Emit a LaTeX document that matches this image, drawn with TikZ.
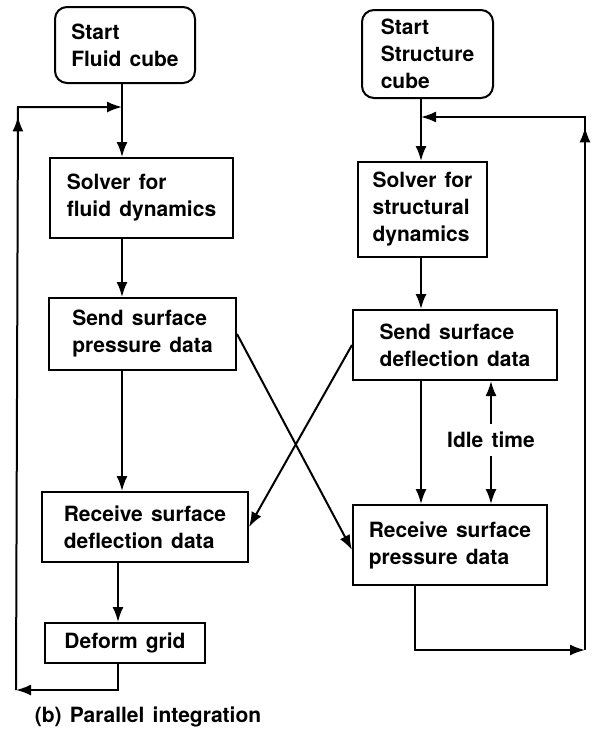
\documentclass[tikz,border=0pt]{standalone}
\usepackage{fontspec}
\setmainfont{TeX Gyre Heros}[WordSpace=1.4]
\usetikzlibrary{arrows.meta,calc,positioning,decorations.markings}

\begin{document}
\begin{tikzpicture}[x=1pt,y=-1pt,line width=2pt,
every node/.style={font=\bfseries\fontsize{21}{27}\selectfont},
box/.style={draw,rectangle,align=left,inner sep=0pt},
startbox/.style={box,rounded corners=12pt},
arr/.style={-{Latex[length=15pt,width=11pt]}},
midarr/.style={postaction={decorate},decoration={markings,
  mark=at position #1 with {\arrow{Latex[length=15pt,width=11pt]}}}}]
\useasboundingbox (0,0) rectangle (592,740);
% fluid side
\node[startbox,minimum width=140pt,minimum height=76pt] (F1) at (125,45) {Start\\Fluid cube};
\node[box,minimum width=183pt,minimum height=80pt] (F2) at (141.5,198) {Solver for\\fluid dynamics};
\node[box,minimum width=187pt,minimum height=72pt] (F3) at (142.5,334) {Send surface\\pressure data};
\node[box,minimum width=206pt,minimum height=70pt] (F4) at (145,527) {Receive surface\\deflection data};
\node[box,minimum width=160pt,minimum height=40pt] (F5) at (125,643) {Deform grid};
% structure side
\node[startbox,minimum width=131pt,minimum height=88pt] (S1) at (427.5,54) {Start\\Structure\\cube};
\node[box,minimum width=129pt,minimum height=95pt] (S2) at (422.5,209.5) {Solver for\\structural\\dynamics};
\node[box,minimum width=204pt,minimum height=70pt] (S3) at (455,345) {Send surface\\deflection data};
\node[box,minimum width=194pt,minimum height=80pt] (S4) at (450,545) {Receive surface\\pressure data};
\node[inner sep=7pt] (idle) at (491,440) {Idle time};
\node (cap) at (148,717) {(b) Parallel integration};
% loop corners
\coordinate (cL) at (122,107);
\coordinate (dL) at (118,690);
\coordinate (bL) at (16,690);
\coordinate (tL) at (18,107);
\coordinate (cR) at (421,117);
\coordinate (dR) at (415,650);
\coordinate (bR) at (585,650);
\coordinate (tR) at (585,117);
\draw[arr] (F1.south -| cL) -- (F2.north -| cL);
\draw[arr] (F2.south -| cL) -- (F3.north -| cL);
\draw[arr] (F3.south -| cL) -- (F4.north -| cL);
\draw[arr] (F4.south -| dL) -- (F5.north -| dL);
\draw[arr] (F5.south -| dL) -- (dL) -- (bL);
\draw[arr,midarr=0.835] (bL) -- (tL) -- (cL);
\draw[arr] (S1.south -| cR) -- (S2.north -| cR);
\draw[arr] (S2.south -| cR) -- (S3.north -| cR);
\draw[arr] (S3.south -| cR) -- (S4.north -| cR);
\draw[arr] (S4.south -| dR) -- (dR) -- (bR);
\draw[arr,midarr=0.75] (bR) -- (tR) -- (cR);
\draw[arr] (F3.east) -- ([yshift=-5pt]S4.west);
\draw[arr] (S3.west) -- (F4.east);
\draw[arr] (idle.north) -- (S3.south -| idle);
\draw[arr] (idle.south) -- (S4.north -| idle);
\end{tikzpicture}
\end{document}
